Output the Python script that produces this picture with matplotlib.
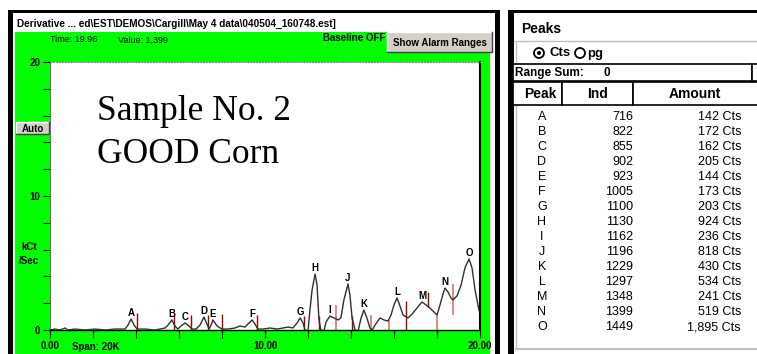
"""
Derivative trace of the corn sample with the peaks table next to it.
"""
import matplotlib
matplotlib.use("Agg")
import matplotlib.pyplot as plt
from matplotlib.patches import Rectangle, Circle

plt.rcParams['font.family'] = ['Liberation Sans', 'DejaVu Sans']

# derivative signal: time (min) vs kCt/sec
trace_time = [0.00, 0.23, 0.47, 0.70, 0.84, 1.16, 1.63, 2.09, 2.56, 3.02, 3.26, 3.49,
              3.63, 3.77, 3.91, 4.05, 4.42, 4.88, 5.12, 5.35, 5.49, 5.67, 5.81, 5.95,
              6.09, 6.28, 6.47, 6.60, 6.79, 6.98, 7.16, 7.30, 7.40, 7.49, 7.58, 7.77,
              8.00, 8.28, 8.60, 8.84, 9.07, 9.21, 9.40, 9.53, 9.67, 9.91, 10.23, 10.56,
              10.84, 11.07, 11.30, 11.49, 11.63, 11.77, 11.86, 12.00, 12.09, 12.19, 12.33,
              12.42, 12.51, 12.60, 12.74, 12.84, 13.02, 13.21, 13.40, 13.53, 13.67, 13.86,
              13.95, 14.05, 14.19, 14.33, 14.47, 14.60, 14.74, 14.88, 14.98, 15.12, 15.35,
              15.53, 15.72, 15.86, 16.00, 16.14, 16.28, 16.42, 16.65, 16.84, 17.07, 17.30,
              17.49, 17.67, 17.86, 18.00, 18.14, 18.28, 18.37, 18.51, 18.65, 18.74, 18.93,
              19.12, 19.30, 19.49, 19.63, 19.77, 19.95]
trace_kcts = [0.00, 0.07, 0.00, 0.15, 0.00, 0.07, 0.00, 0.07, 0.00, 0.07, 0.07, 0.07,
              0.37, 0.82, 0.37, 0.07, 0.07, 0.00, 0.07, 0.15, 0.37, 0.75, 0.30, 0.07,
              0.30, 0.52, 0.30, 0.07, 0.07, 0.37, 0.97, 0.45, 0.07, 0.37, 0.75, 0.30,
              0.07, 0.07, 0.15, 0.30, 0.22, 0.45, 0.75, 0.45, 0.07, 0.07, 0.15, 0.07,
              0.15, 0.22, 0.15, 0.52, 0.90, 0.52, 0.00, -0.07, 1.49, 2.99, 4.18,
              3.36, 0.75, 0.00, -0.07, 0.60, 1.04, 0.90, 0.75, 0.90, 2.24, 3.43,
              2.61, 0.90, 0.00, -0.07, 0.90, 1.49, 0.90, 0.15, 0.00, 0.37, 0.90,
              0.75, 0.67, 1.12, 1.87, 2.39, 1.79, 1.12, 0.90, 1.19, 1.64, 2.09,
              1.87, 1.64, 1.34, 1.12, 1.87, 2.69, 3.13, 2.84, 2.39, 2.24, 2.54,
              3.36, 4.63, 5.30, 4.63, 2.99, 1.49]

# peak apexes
peak_names = list("ABCDEFGHIJKLMNO")
peak_time = [3.77, 5.67, 6.28, 7.16, 7.58, 9.40, 11.63, 12.33, 13.02, 13.86, 14.60,
             16.14, 17.30, 18.37, 19.49]
peak_height = [0.82, 0.75, 0.52, 0.97, 0.75, 0.75, 0.90, 4.18, 1.04, 3.43, 1.49,
               2.39, 2.09, 3.13, 5.30]

# integration window edges
edge_time = [4.05, 5.77, 6.56, 7.35, 8.00, 9.63, 11.81, 12.51, 13.30, 14.05, 14.93,
             15.77, 16.56, 17.58, 18.00, 18.74]
edge_top = [1.27, 1.12, 1.12, 1.12, 1.19, 1.12, 1.04, 1.04, 1.87, 1.04, 1.12,
            0.75, 2.16, 2.84, 1.19, 3.43]
edge_bottom = [0, 0, 0, 0, 0, 0, 0, 0, 0, 0, 0, 0, 0, 1.72, 0, 1.12]
edge_faint = [False, False, False, False, False, False, False, False, True, False,
              True, True, False, False, True, True]

# peaks table
peak_ind = [716, 822, 855, 902, 923, 1005, 1100, 1130, 1162, 1196, 1229, 1297,
            1348, 1399, 1449]
peak_amount = [142, 172, 162, 205, 144, 173, 203, 924, 236, 818, 430, 534, 241,
               519, 1895]

W, H = 757, 354
GREEN = '#00ff00'
BTN = '#d4d0c8'

fig = plt.figure(figsize=(W / 100, H / 100), dpi=100)
ui = fig.add_axes([0, 0, 1, 1])
ui.set_xlim(0, W)
ui.set_ylim(H, 0)
ui.axis('off')


def box(x0, y0, x1, y1, fc, ec='none', lw=0, z=1):
    ui.add_patch(Rectangle((x0, y0), x1 - x0, y1 - y0, facecolor=fc,
                           edgecolor=ec, linewidth=lw, zorder=z))


def button(x0, y0, x1, y1, label):
    box(x0, y0, x1, y1, BTN, z=3)
    ui.plot([x0, x0, x1], [y1, y0, y0], color='white', lw=1, zorder=4)
    ui.plot([x0, x1, x1], [y1, y1, y0], color='#404040', lw=1, zorder=4)
    ui.text((x0 + x1) / 2, (y0 + y1) / 2 + 0.5, label, ha='center', va='center',
            fontsize=7, weight='bold', zorder=5)


# left window
box(8, 10, 500, H, 'black')
box(13, 13, 495, H, 'white')
box(15, 32, 490, H, GREEN)
ui.text(17, 24, r"Derivative ... ed\EST\DEMOS\Cargill\May 4 data\040504_160748.est]",
        fontsize=7.2, weight='bold', va='center')
ui.text(50, 40, "Time: 19.96", fontsize=6.5, va='center')
ui.text(118, 40, "Value: 1,399", fontsize=6.5, va='center')
ui.text(323, 38, "Baseline OFF", fontsize=7, weight='bold', va='center')
button(387, 32, 492, 52, "Show Alarm Ranges")
button(16, 122, 49, 134, "Auto")
ui.text(29, 247, "kCt", fontsize=7, weight='bold', ha='center', va='center')
ui.text(29, 261, "/Sec", fontsize=7, weight='bold', ha='center', va='center')
ui.text(72, 347, "Span: 20K", fontsize=7, weight='bold', va='center')

# right window: peaks table
box(508, 10, W + 10, H + 10, 'black')
box(514, 13, W + 10, H + 10, 'white')
ui.plot([516, W], [349, 349], color='#c0c0c0', lw=1.5)
ui.plot([516, 516], [42, 349], color='#c0c0c0', lw=1)
ui.text(521, 29, "Peaks", fontsize=10, weight='bold', va='center')
ui.plot([514, W], [41, 41], color='#c0c0c0', lw=1)
ui.add_patch(Circle((539, 53), 5, facecolor='white', edgecolor='black', lw=1.3))
ui.add_patch(Circle((539, 53), 2, facecolor='black'))
ui.text(549, 53.5, "Cts", fontsize=9.5, weight='bold', va='center')
ui.add_patch(Circle((580, 53), 5, facecolor='white', edgecolor='black', lw=1.3))
ui.text(587, 53.5, "pg", fontsize=9.5, weight='bold', va='center')
box(513, 64, 752, 81, 'white', ec='black', lw=1.2, z=2)
box(752, 64, 770, 81, 'white', ec='black', lw=1.2, z=2)
ui.text(515, 73, "Range Sum:", fontsize=8.5, weight='bold', va='center', zorder=3)
ui.text(604, 73, "0", fontsize=8.5, weight='bold', va='center', zorder=3)
for x0, x1 in [(513, 562), (562, 633), (633, 770)]:
    box(x0, 82, x1, 105, 'white', ec='black', lw=1.2, z=2)
cols = {"Peak": 540, "Ind": 598, "Amount": 695}
for head, cx in cols.items():
    ui.text(cx, 94, head, fontsize=10, weight='bold', ha='center', va='center', zorder=3)
for i, name in enumerate(peak_names):
    y = 117 + 15 * i
    ui.text(542, y, name, fontsize=9, ha='center', va='center')
    ui.text(633, y, str(peak_ind[i]), fontsize=9, ha='right', va='center')
    ui.text(741, y, "{:,} Cts".format(peak_amount[i]), fontsize=9, ha='right',
            va='center')

# plot area
ax = fig.add_axes([50 / W, 1 - 330 / H, 430 / W, 268 / H])
ax.set_facecolor('white')
ax.plot(trace_time, trace_kcts, color='#303030', lw=1, zorder=3)
ax.vlines([t for t, f in zip(edge_time, edge_faint) if not f],
          [b for b, f in zip(edge_bottom, edge_faint) if not f],
          [t for t, f in zip(edge_top, edge_faint) if not f],
          colors='#a00000', lw=1, zorder=2)
ax.vlines([t for t, f in zip(edge_time, edge_faint) if f],
          [b for b, f in zip(edge_bottom, edge_faint) if f],
          [t for t, f in zip(edge_top, edge_faint) if f],
          colors='#e07070', lw=1.2, zorder=2)
for name, t, h in zip(peak_names, peak_time, peak_height):
    ax.annotate(name, (t, h), xytext=(0, 1), textcoords='offset points',
                ha='center', va='bottom', fontsize=7, weight='bold', zorder=4)

ax.text(0.109, 0.784, "Sample No. 2", transform=ax.transAxes, fontsize=25.5,
        family='Liberation Serif', va='baseline')
ax.text(0.109, 0.623, "GOOD Corn", transform=ax.transAxes, fontsize=25.5,
        family='Liberation Serif', va='baseline')

ax.set_xlim(0, 20)
ax.set_ylim(0, 20)
ax.set_xticks(range(0, 21, 2))
ax.set_xticklabels(['0.00' if v == 0 else '10.00' if v == 10 else '20.00' if v == 20 else ''
                    for v in range(0, 21, 2)])
ax.set_yticks(range(0, 21, 2))
ax.set_yticklabels([str(v) if v % 10 == 0 else '' for v in range(0, 21, 2)])
ax.tick_params(axis='x', direction='out', length=6, width=0.8, pad=2, labelsize=7)
ax.tick_params(axis='y', direction='out', length=5, width=0.8, pad=2, labelsize=7)
for lab in ax.get_xticklabels() + ax.get_yticklabels():
    lab.set_fontweight('bold')
ax.spines['left'].set_color('#707070')
ax.spines['left'].set_linewidth(0.8)
ax.spines['bottom'].set_color('black')
ax.spines['bottom'].set_linewidth(1)
ax.spines['right'].set_color('black')
ax.spines['right'].set_linewidth(1.5)
ax.spines['top'].set_color('#808080')
ax.spines['top'].set_linestyle(':')
ax.spines['top'].set_linewidth(0.8)

fig.savefig('out.png', dpi=100)
